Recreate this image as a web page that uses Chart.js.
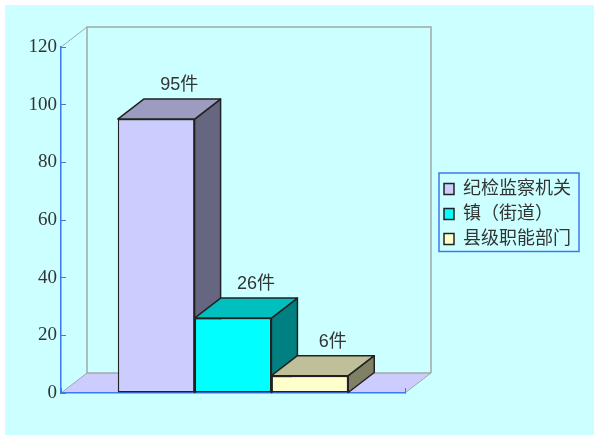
<!DOCTYPE html>
<html>
<head>
<meta charset="utf-8">
<script src="https://cdn.jsdelivr.net/npm/chart.js@4/dist/chart.umd.min.js"></script>
<style>
  html, body { margin: 0; padding: 0; background: #fff; }
  #wrap { width: 600px; height: 441px; }
</style>
</head>
<body>
<div id="wrap"><canvas id="chart"></canvas></div>
<script>
const categories = [''];
const seriesNames = ['纪检监察机关', '镇（街道）', '县级职能部门'];
const seriesValues = [95, 26, 6];
const yTicks = [0, 20, 40, 60, 80, 100, 120];
const unit = '件';

const frontColors = ['#CCCCFF', '#00FFFF', '#FFFFCC'];
const topColors = ['#9C9CC0', '#00BFBF', '#BFBF99'];
const sideColors = ['#666680', '#008080', '#808066'];

const BG = '#CCFFFF', BLUE = '#3C78F0', WALL = '#A0A8A8', EDGE = '#222222', TEXT = '#333333';
const DX = 26, DY = -20;
const LATIN_CJK = "'Liberation Sans', 'Noto Sans CJK SC'";

function poly(ctx, pts, fill, stroke, width) {
  ctx.beginPath();
  pts.forEach((p, i) => i ? ctx.lineTo(p[0], p[1]) : ctx.moveTo(p[0], p[1]));
  ctx.closePath();
  if (fill) { ctx.fillStyle = fill; ctx.fill(); }
  if (stroke) { ctx.strokeStyle = stroke; ctx.lineWidth = width; ctx.stroke(); }
}

/* ── background, back walls and floor ── */
const wallsPlugin = {
  id: 'walls',
  beforeDraw(chart) {
    const { ctx, chartArea: a } = chart;
    ctx.save();
    ctx.fillStyle = BG;
    ctx.fillRect(5, 5, 589, 430);
    poly(ctx, [[a.left, a.bottom], [a.left + DX, a.bottom + DY], [a.right + DX, a.bottom + DY], [a.right, a.bottom]], frontColors[0]);
    ctx.strokeStyle = WALL;
    ctx.lineWidth = 1.5;
    ctx.beginPath();
    ctx.moveTo(a.left + DX, a.bottom + DY);
    ctx.lineTo(a.left + DX, a.top + DY);
    ctx.lineTo(a.right + DX, a.top + DY);
    ctx.lineTo(a.right + DX, a.bottom + DY);
    ctx.moveTo(a.left + DX, a.bottom + DY);
    ctx.lineTo(a.right + DX, a.bottom + DY);
    ctx.stroke();
    ctx.lineWidth = 1;
    ctx.beginPath();
    ctx.moveTo(a.left, a.top);
    ctx.lineTo(a.left + DX, a.top + DY);
    ctx.moveTo(a.left, a.bottom);
    ctx.lineTo(a.left + DX, a.bottom + DY);
    ctx.moveTo(a.right, a.bottom);
    ctx.lineTo(a.right + DX, a.bottom + DY);
    ctx.stroke();
    ctx.restore();
  }
};

/* ── depth faces of each bar, behind the fronts ── */
const depthPlugin = {
  id: 'depth',
  beforeDatasetsDraw(chart) {
    const { ctx } = chart;
    ctx.save();
    ctx.lineJoin = 'round';
    seriesValues.forEach((v, i) => {
      const b = chart.getDatasetMeta(i).data[0];
      const l = b.x - b.width / 2, r = b.x + b.width / 2;
      poly(ctx, [[r, b.y], [r + DX, b.y + DY], [r + DX, b.base + DY], [r, b.base]], sideColors[i], EDGE, 1.5);
      poly(ctx, [[l, b.y], [l + DX, b.y + DY], [r + DX, b.y + DY], [r, b.y]], topColors[i], EDGE, 1.5);
    });
    ctx.restore();
  },
  afterDraw(chart) {
    const { ctx } = chart;
    ctx.save();
    ctx.font = `18px ${LATIN_CJK}`;
    ctx.fillStyle = TEXT;
    ctx.textAlign = 'center';
    ctx.textBaseline = 'middle';
    seriesValues.forEach((v, i) => {
      const b = chart.getDatasetMeta(i).data[0];
      ctx.fillText(v + unit, b.x + 23, b.y + DY - 14);
    });
    // legend frame
    ctx.strokeStyle = BLUE;
    ctx.lineWidth = 1.5;
    ctx.strokeRect(439, 173, 140, 78.5);
    ctx.restore();
  }
};

/* ── move the legend to its spot right of the plot ── */
const legendPlacePlugin = {
  id: 'legendPlace',
  afterLayout(chart) {
    const lg = chart.legend;
    lg.left = 437; lg.right = 580; lg.top = 173; lg.bottom = 435;
    lg.adjustHitBoxes();
  }
};

new Chart(document.getElementById('chart'), {
  type: 'bar',
  data: {
    labels: categories,
    datasets: seriesNames.map((name, i) => ({
      label: name,
      data: [seriesValues[i]],
      backgroundColor: frontColors[i],
      borderColor: EDGE,
      borderWidth: 1.5,
      borderSkipped: false,
      clip: false
    }))
  },
  options: {
    responsive: true,
    maintainAspectRatio: false,
    animation: false,
    devicePixelRatio: 1,
    datasets: { bar: { categoryPercentage: 0.67, barPercentage: 1 } },
    layout: { padding: { top: 47, right: 195, bottom: 48, left: 0 } },
    plugins: {
      tooltip: { enabled: false },
      legend: {
        position: 'chartArea',
        align: 'start',
        labels: {
          boxWidth: 10,
          boxHeight: 11,
          padding: 7,
          color: TEXT,
          font: { family: LATIN_CJK, size: 18 }
        }
      }
    },
    scales: {
      x: {
        z: 1,
        border: { color: BLUE, width: 1.5 },
        grid: { display: true, drawOnChartArea: false, color: BLUE, tickLength: -5 },
        ticks: { display: false },
        afterFit(s) { s.height = 0; }
      },
      y: {
        min: 0,
        max: 120,
        border: { color: BLUE, width: 1.5 },
        grid: { drawOnChartArea: false, color: BLUE, tickLength: -5 },
        afterBuildTicks(s) { s.ticks = yTicks.map(v => ({ value: v })); },
        afterFit(s) { s.width = 61; },
        ticks: {
          color: TEXT,
          padding: 9,
          font: { family: "'Liberation Serif'", size: 19 }
        }
      }
    }
  },
  plugins: [wallsPlugin, depthPlugin, legendPlacePlugin]
});
</script>
</body>
</html>
